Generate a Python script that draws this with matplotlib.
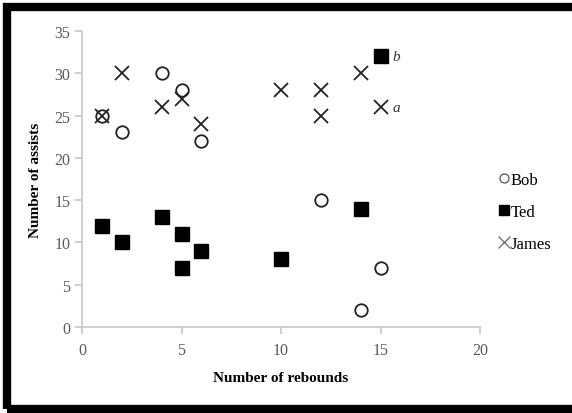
import matplotlib
matplotlib.use("Agg")
import matplotlib.pyplot as plt
from matplotlib.lines import Line2D
from matplotlib.patches import Rectangle

bob_reb = [1, 2, 4, 5, 6, 12, 14, 15]
bob_ast = [25, 23, 30, 28, 22, 15, 2, 7]
ted_reb = [1, 2, 4, 5, 5, 6, 10, 14, 15]
ted_ast = [12, 10, 13, 11, 7, 9, 8, 14, 32]
james_reb = [1, 2, 4, 5, 6, 10, 12, 12, 14, 15]
james_ast = [25, 30, 26, 27, 24, 28, 28, 25, 30, 26]
x_ticks = [0, 5, 10, 15, 20]
y_ticks = [0, 5, 10, 15, 20, 25, 30, 35]
names = ["Bob", "Ted", "James"]

plt.rcParams["font.family"] = ["Liberation Serif", "DejaVu Serif"]

fig = plt.figure(figsize=(5.72, 4.14), dpi=100)
ax = fig.add_axes([0.1434, 0.2077, 0.6958, 0.715])

ax.plot(bob_reb, bob_ast, "o", ms=9, mfc="white", mec="#222222", mew=1.3, zorder=3)
ax.plot(ted_reb, ted_ast, "s", ms=10, mfc="black", mec="black", zorder=3)
ax.plot(james_reb, james_ast, "x", ms=10, mec="#222222", mew=1.3, zorder=4)

ax.text(15.6, 32, "b", style="italic", fontsize=11, va="center", color="#333333")
ax.text(15.6, 26, "a", style="italic", fontsize=11, va="center", color="#333333")

ax.set_xlim(0, 20)
ax.set_ylim(0, 35)
ax.set_xticks(x_ticks)
ax.set_yticks(y_ticks)
for s in ["top", "right"]:
    ax.spines[s].set_visible(False)
for s in ["left", "bottom"]:
    ax.spines[s].set_color("#c8c8c8")
    ax.spines[s].set_linewidth(1.2)
ax.tick_params(colors="#c8c8c8", labelcolor="#595959", labelsize=11.5, length=5, width=1.2, direction="out")
ax.tick_params(axis="x", pad=6)

ax.set_xlabel("Number of rebounds", fontsize=11, fontweight="bold", labelpad=9)
ax.set_ylabel("Number of assists", fontsize=11, fontweight="bold", labelpad=9)

# legend handles drawn lighter than the data marks, like the original
handles = [
    Line2D([], [], ls="", marker="o", ms=6.5, mfc="white", mec="#555555", mew=0.9),
    Line2D([], [], ls="", marker="s", ms=6.5, mfc="black", mec="black"),
    Line2D([], [], ls="", marker="x", ms=8, mec="#666666", mew=0.9),
]
fig.legend(handles, names, loc="upper left", bbox_to_anchor=(0.855, 0.598), frameon=False,
           fontsize=12, handletextpad=-0.1, labelspacing=0.95, handlelength=1.0,
           borderaxespad=0)

# black frame on left, top and bottom
fig.patches.append(Rectangle((0.012, 0.0085), 1.2, 0.971, transform=fig.transFigure,
                             fill=False, ec="black", lw=6))

fig.savefig("out.png", dpi=100)
